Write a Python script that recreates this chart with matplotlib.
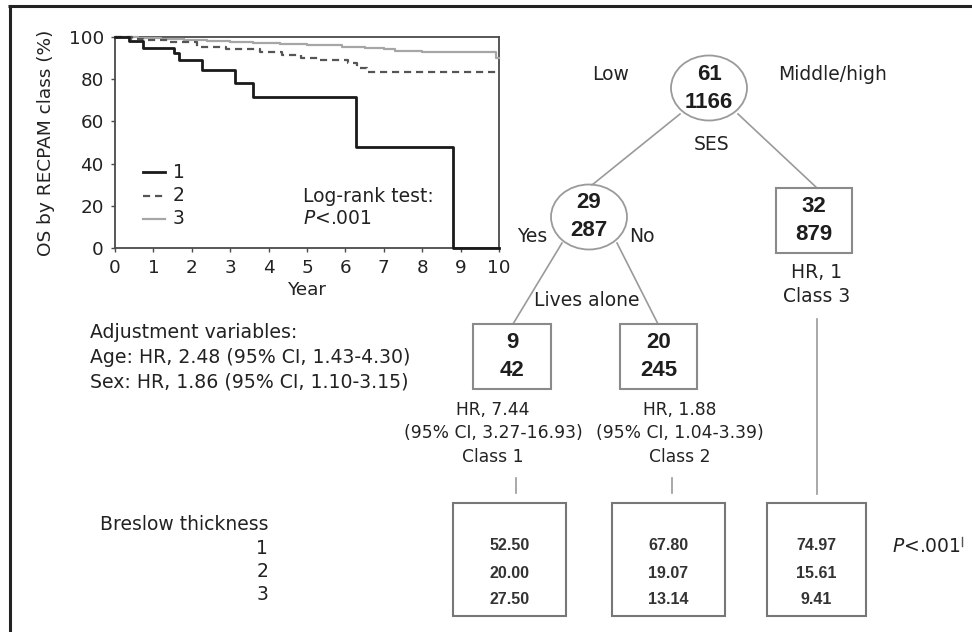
import matplotlib
matplotlib.use("Agg")
import matplotlib.pyplot as plt
from matplotlib.patches import Ellipse, Rectangle

plt.rcParams['font.family'] = ['DejaVu Sans']

# ---------------- data ----------------
class1_t = [0, 0.36, 0.72, 1.54, 1.67, 2.26, 3.13, 3.60, 6.28, 8.81, 10]
class1_s = [100, 98.2, 95.0, 92.2, 88.9, 84.4, 78.1, 71.4, 47.8, 0, 0]
class2_t = [0, 0.43, 0.73, 1.40, 2.13, 2.90, 3.78, 4.34, 4.84, 5.30, 6.07, 6.30, 6.55, 10]
class2_s = [100, 98.9, 98.4, 97.4, 95.4, 94.2, 92.7, 91.5, 89.9, 89.1, 87.5, 85.5, 83.5, 83.5]
class3_t = [0, 0.6, 1.2, 1.8, 2.4, 3.0, 3.6, 4.3, 5.0, 5.9, 6.5, 7.0, 7.3, 8.0, 9.93, 10]
class3_s = [100, 99.5, 99.0, 98.6, 98.2, 97.7, 97.2, 96.7, 96.0, 95.3, 94.9, 94.4, 93.6, 92.7, 90.0, 90.0]
legend_labels = ["1", "2", "3"]
x_ticks = list(range(0, 11))
y_ticks = [0, 20, 40, 60, 80, 100]

root_counts = ("61", "1166")
low_counts = ("29", "287")
high_counts = ("32", "879")
alone_yes_counts = ("9", "42")
alone_no_counts = ("20", "245")
class_hr = ["HR, 7.44\n(95% CI, 3.27-16.93)\nClass 1",
            "HR, 1.88\n(95% CI, 1.04-3.39)\nClass 2"]
adjust_lines = ["Adjustment variables:",
                "Age: HR, 2.48 (95% CI, 1.43-4.30)",
                "Sex: HR, 1.86 (95% CI, 1.10-3.15)"]
breslow_levels = ["1", "2", "3"]
breslow_class1 = ["52.50", "20.00", "27.50"]
breslow_class2 = ["67.80", "19.07", "13.14"]
breslow_class3 = ["74.97", "15.61", "9.41"]

W, H = 972, 632
fig = plt.figure(figsize=(W / 100, H / 100), dpi=100)
fig.patch.set_facecolor('white')

# overlay in pixel coordinates
ov = fig.add_axes([0, 0, 1, 1], zorder=0)
ov.set_xlim(0, W)
ov.set_ylim(H, 0)
ov.axis('off')

TXT = '#222222'
LINE = '#9a9a9a'
BOX = '#8a8a8a'

# outer frame (top and left)
ov.plot([8, W], [5.5, 5.5], color='#222222', lw=2.2, solid_capstyle='butt')
ov.plot([9.5, 9.5], [4.5, H], color='#222222', lw=2.2, solid_capstyle='butt')

# ---------------- KM axes ----------------
l, r, t, b = 115, 499, 37, 248
ax = fig.add_axes([l / W, (H - b) / H, (r - l) / W, (b - t) / H], zorder=2)
ax.set_facecolor('none')
ax.step(class3_t, class3_s, where='post', color='#a6a6a6', lw=1.6, clip_on=False, zorder=3)
ax.step(class2_t, class2_s, where='post', color='#555555', lw=1.6, ls=(0, (3.2, 2.2)), clip_on=False, zorder=4)
ax.step(class1_t, class1_s, where='post', color='#1a1a1a', lw=2.0, clip_on=False, zorder=5)
ax.set_xlim(0, 10)
ax.set_ylim(0, 100)
ax.set_xticks(x_ticks)
ax.set_yticks(y_ticks)
for sp in ax.spines.values():
    sp.set_color('#4a4a4a')
    sp.set_linewidth(1.3)
ax.tick_params(direction='out', length=3, width=1, colors='#4a4a4a',
               labelcolor=TXT, labelsize=13.2, pad=5)
ax.set_xlabel("Year", fontsize=13.2, color=TXT, labelpad=3)
ax.set_ylabel("OS by RECPAM class (%)", fontsize=13.3, color=TXT, labelpad=10)

# legend drawn in pixel coords
leg_styles = [dict(color='#1a1a1a', lw=2.0),
              dict(color='#555555', lw=1.6, ls=(0, (3.2, 2.2))),
              dict(color='#a6a6a6', lw=1.6)]
for i, (lab, st) in enumerate(zip(legend_labels, leg_styles)):
    y = 172 + i * 23.5
    ov.plot([143, 165], [y, y], zorder=6, **st)
    ov.text(173, y, lab, fontsize=13.5, color=TXT, va='center', ha='left')
ov.text(303, 196, "Log-rank test:", fontsize=13.5, color=TXT, va='center', ha='left')
ov.text(303, 219, r"$P$<.001", fontsize=13.5, color=TXT, va='center', ha='left')

# ---------------- tree ----------------
NUM = dict(fontsize=16, fontweight='bold', color='#1e1e1e', family='Liberation Sans',
           ha='center', va='center')

def node_ellipse(cx, cy, counts):
    ov.add_patch(Ellipse((cx, cy), 76, 65, fill=False, ec=LINE, lw=1.3, zorder=3))
    ov.text(cx, cy - 14, counts[0], **NUM)
    ov.text(cx, cy + 14, counts[1], **NUM)

def node_box(x0, x1, y0, y1, counts):
    ov.add_patch(Rectangle((x0, y0), x1 - x0, y1 - y0, fill=False, ec=BOX, lw=1.5, zorder=3))
    cx = (x0 + x1) / 2
    ov.text(cx, y0 + 19, counts[0], **NUM)
    ov.text(cx, y0 + 46, counts[1], **NUM)

def seg(x0, y0, x1, y1):
    ov.plot([x0, x1], [y0, y1], color=LINE, lw=1.2, zorder=2)

node_ellipse(709, 88, root_counts)
ov.text(611, 74, "Low", ha='center', va='center', fontsize=13.5, color=TXT)
ov.text(833, 74, "Middle/high", ha='center', va='center', fontsize=13.5, color=TXT)
ov.text(712, 145, "SES", ha='center', va='center', fontsize=13.5, color=TXT)
seg(680, 114, 592, 185)
seg(738, 114, 817, 188)

node_ellipse(589, 217, low_counts)
ov.text(532, 236, "Yes", ha='center', va='center', fontsize=13.5, color=TXT)
ov.text(642, 236, "No", ha='center', va='center', fontsize=13.5, color=TXT)

node_box(776, 852, 188, 253, high_counts)
ov.text(817, 273, "HR, 1", ha='center', va='center', fontsize=13.5, color=TXT)
ov.text(817, 296, "Class 3", ha='center', va='center', fontsize=13.5, color=TXT)
seg(817, 319, 817, 494)

seg(562, 243, 513, 324)
seg(617, 243, 658, 324)
ov.text(587, 301, "Lives alone", ha='center', va='center', fontsize=13.5, color=TXT)

node_box(473, 551, 324, 389, alone_yes_counts)
node_box(620, 697, 324, 389, alone_no_counts)

for cx, txt in zip([493, 680], class_hr):
    for j, line in enumerate(txt.split("\n")):
        ov.text(cx, 410 + j * 23.5, line, ha='center', va='center', fontsize=12.3, color=TXT)
seg(516, 478, 516, 493)
seg(672, 478, 672, 493)

for j, line in enumerate(adjust_lines):
    ov.text(90, 333 + j * 24.5, line, ha='left', va='center', fontsize=13.6, color=TXT)

# ---------------- Breslow boxes ----------------
ov.text(100, 524, "Breslow thickness", ha='left', va='center', fontsize=13.5, color=TXT)
for j, lv in enumerate(breslow_levels):
    ov.text(268, 548 + j * 23.5, lv, ha='right', va='center', fontsize=13.5, color=TXT)

boxes = [(453, 566, breslow_class1), (612, 725, breslow_class2), (767, 866, breslow_class3)]
for x0, x1, vals in boxes:
    ov.add_patch(Rectangle((x0, 503), x1 - x0, 113, fill=False, ec='#777777', lw=1.5, zorder=3))
    cx = (x0 + x1) / 2
    for j, v in enumerate(vals):
        ov.text(cx, 546 + j * 27, v, ha='center', va='center', fontsize=11.5,
                fontweight='bold', color='#333333', family='Liberation Sans')

ov.text(892, 546, r"$P$<.001", ha='left', va='center', fontsize=13.5, color=TXT)
ov.plot([962, 962], [537, 546], color='#555555', lw=1.0)

fig.savefig("out.png", dpi=100)
